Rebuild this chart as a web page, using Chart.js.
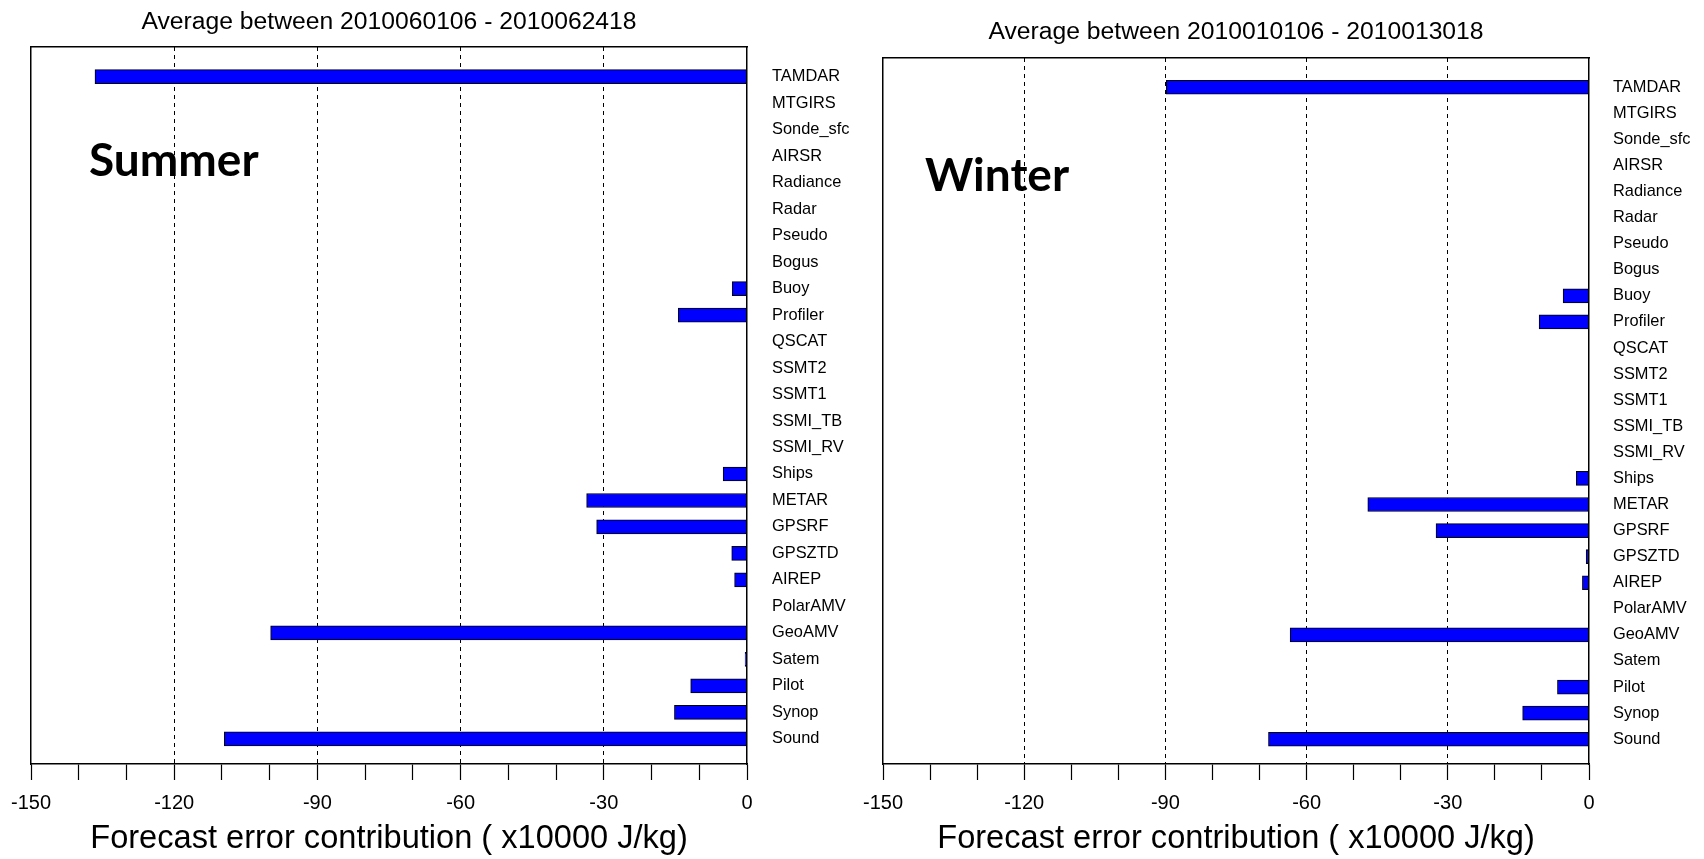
<!DOCTYPE html>
<html>
<head>
<meta charset="utf-8">
<script src="https://cdn.jsdelivr.net/npm/chart.js@4"></script>
<style>
  html, body { margin: 0; padding: 0; background: #fff; }
  body { width: 1704px; height: 859px; position: relative; overflow: hidden; }
  .panel { position: absolute; top: 0; width: 852px; height: 859px; }
  .season { position: absolute; font-family: Lato, "Open Sans", sans-serif; font-weight: bold; font-size: 46px; color: #000; line-height: 1; }
</style>
</head>
<body>
<div class="panel" style="left:0"><canvas id="summerChart"></canvas></div>
<div class="panel" style="left:852px"><canvas id="winterChart"></canvas></div>
<div class="season" style="left:89px; top:136px">Summer</div>
<div class="season" style="left:925px; top:151px">Winter</div>
<script>
// Данные
const categories = ['TAMDAR', 'MTGIRS', 'Sonde_sfc', 'AIRSR', 'Radiance', 'Radar', 'Pseudo', 'Bogus',
    'Buoy', 'Profiler', 'QSCAT', 'SSMT2', 'SSMT1', 'SSMI_TB', 'SSMI_RV', 'Ships', 'METAR', 'GPSRF',
    'GPSZTD', 'AIREP', 'PolarAMV', 'GeoAMV', 'Satem', 'Pilot', 'Synop', 'Sound'];
const summerValues = [-136.6, 0, 0, 0, 0, 0, 0, 0, -3.1, -14.4, 0, 0, 0, 0, 0, -5.0, -33.6, -31.5,
    -3.2, -2.6, 0, -99.8, -0.4, -11.8, -15.2, -109.5];
const winterValues = [-89.8, 0, 0, 0, 0, 0, 0, 0, -5.5, -10.6, 0, 0, 0, 0, 0, -2.7, -47.0, -32.5,
    -0.6, -1.4, 0, -63.5, 0, -6.7, -14.1, -68.1];
const xLabels = [-150, -120, -90, -60, -30, 0];
const summerTitle = 'Average between 2010060106 - 2010062418';
const winterTitle = 'Average between 2010010106 - 2010013018';
const axisTitle = 'Forecast error contribution ( x10000 J/kg)';

const FONT = '"Liberation Sans", Arial, Helvetica, sans-serif';

function makeChart(id, title, values, g) {
    const ctx = document.getElementById(id).getContext('2d');
    const n = categories.length;
    return new Chart(ctx, {
        type: 'bar',
        data: {
            datasets: [{
                data: values.map((v, i) => ({ x: v, y: i })),
                backgroundColor: '#0000ff',
                borderColor: '#000',
                borderWidth: 1,
                borderSkipped: false,
                barThickness: 14,
                xAxisID: 'x',
                yAxisID: 'y'
            }]
        },
        options: {
            indexAxis: 'y',
            responsive: true,
            maintainAspectRatio: false,
            animation: false,
            layout: { padding: { left: g.left, top: 0, right: 0, bottom: 0 } },
            plugins: { legend: { display: false }, tooltip: { enabled: false } },
            scales: {
                x: {
                    type: 'linear', position: 'bottom', min: -150, max: 0, offset: false,
                    afterFit: s => { s.height = g.bottomH; },
                    border: { display: true, color: '#000', width: 1.5, dash: [4, 4] },
                    grid: {
                        drawOnChartArea: true,
                        color: c => (xLabels.includes(c.tick.value) && c.tick.value !== -150 && c.tick.value !== 0) ? '#000' : 'rgba(0,0,0,0)',
                        lineWidth: 1,
                        tickColor: '#000',
                        tickLength: 16,
                        tickWidth: 1.2
                    },
                    ticks: {
                        stepSize: 10, maxTicksLimit: 100, autoSkip: false, maxRotation: 0,
                        padding: 11, color: '#000',
                        font: { family: FONT, size: 20 },
                        callback: v => xLabels.includes(v) ? String(v) : ''
                    },
                    title: {
                        display: true, text: axisTitle, color: '#000',
                        font: { family: FONT, size: 32.6 }, padding: { top: 0, bottom: 0 }
                    }
                },
                x2: {
                    type: 'linear', position: 'top', min: -150, max: 0, offset: false,
                    afterFit: s => { s.height = g.topH; },
                    border: { display: true, color: '#000', width: 1.5 },
                    grid: { display: false, drawTicks: false },
                    ticks: { display: false },
                    title: {
                        display: true, text: title, color: '#000',
                        font: { family: FONT, size: 24.7 }, padding: { top: g.titleTop, bottom: 0 }
                    }
                },
                y: {
                    type: 'linear', position: 'right', min: -1.12, max: n - 0.05, reverse: true, offset: false,
                    afterFit: s => { s.width = g.rightW; },
                    border: { display: true, color: '#000', width: 1.5 },
                    grid: { display: false, drawTicks: false },
                    ticks: {
                        stepSize: 1, maxTicksLimit: 100, autoSkip: false, padding: g.labelPad,
                        color: '#000', font: { family: FONT, size: 16.4 },
                        callback: v => categories[v] !== undefined ? categories[v] : ''
                    }
                },
                y2: {
                    type: 'linear', position: 'left', min: -1, max: n, offset: false,
                    afterFit: s => { s.width = 0; },
                    border: { display: true, color: '#000', width: 1.5 },
                    grid: { display: false, drawTicks: false },
                    ticks: { display: false }
                }
            }
        }
    });
}

window.onload = () => {
    makeChart('summerChart', summerTitle, summerValues,
        { left: 29, topH: 47, bottomH: 95, rightW: 105, labelPad: 25, titleTop: 7 });
    makeChart('winterChart', winterTitle, winterValues,
        { left: 30, topH: 58, bottomH: 95, rightW: 115, labelPad: 24, titleTop: 17 });
};
</script>
</body>
</html>
